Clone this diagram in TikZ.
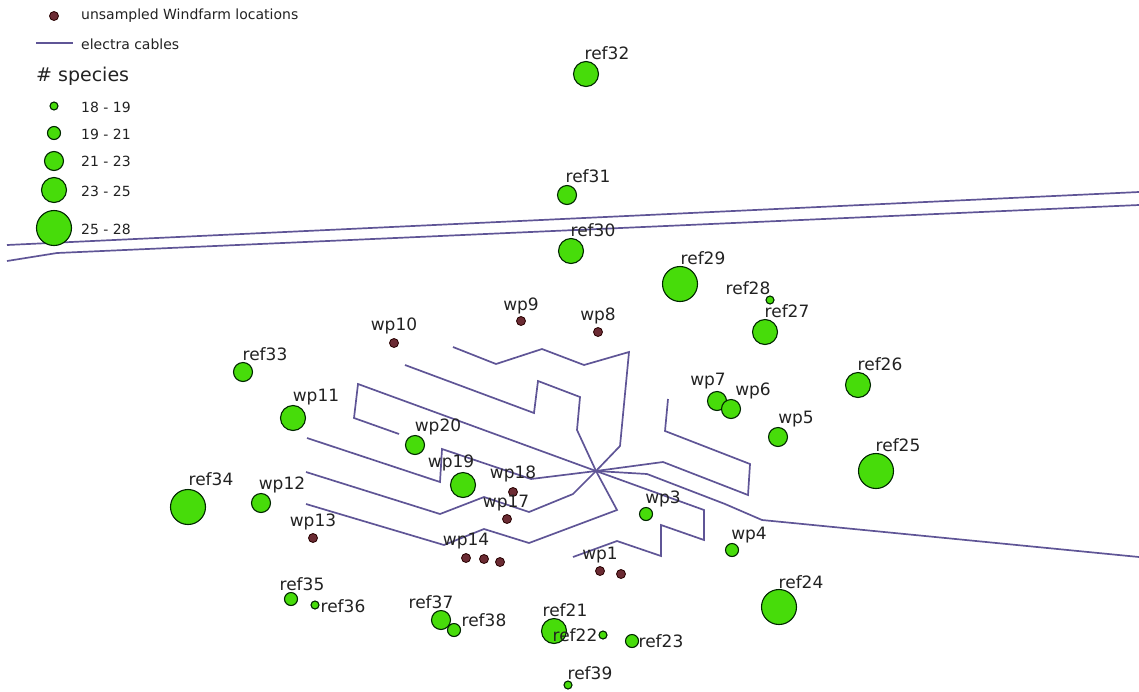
\documentclass[tikz,border=0pt]{standalone}
\usepackage{fontspec}
\setmainfont{DejaVu Sans}
\usetikzlibrary{calc,positioning}
\definecolor{cablecol}{HTML}{5F5596}
\definecolor{sitecol}{HTML}{47DC0A}
\definecolor{windcol}{HTML}{6B2B33}
\definecolor{textcol}{HTML}{222222}
\tikzset{
  SiteStyle/.style = {circle, draw=black!85!green, line width=1.1pt, fill=sitecol, inner sep=0pt, outer sep=0pt},
  SizeA/.style = {SiteStyle, minimum size=8pt},
  SizeB/.style = {SiteStyle, minimum size=13pt},
  SizeC/.style = {SiteStyle, minimum size=19pt},
  SizeD/.style = {SiteStyle, minimum size=25pt},
  SizeE/.style = {SiteStyle, minimum size=35pt},
  WindStyle/.style = {circle, draw=black!85!red, line width=0.8pt, fill=windcol, inner sep=0pt, minimum size=9pt},
  CableStyle/.style = {draw=cablecol, line width=1.7pt, line join=miter},
  LabelStyle/.style = {text=textcol, font=\fontsize{17}{18}\selectfont, inner sep=0pt},
  KeyStyle/.style = {text=textcol, font=\fontsize{14}{15}\selectfont, inner sep=0pt, anchor=west}
}
\begin{document}
\begin{tikzpicture}[x=1pt,y=-1pt]
    \useasboundingbox (0,0) rectangle (1139,691);
    % cables
    \coordinate (hub) at (596,471);
    \draw[CableStyle] (7,245) -- (1139,192);
    \draw[CableStyle] (7,261) -- (57,253) -- (1139,205);
    \draw[CableStyle] (hub) -- (620,446) -- (629,352) -- (584,365) -- (542,349) -- (496,364) -- (453,347);
    \draw[CableStyle] (hub) -- (577,430) -- (580,397) -- (538,381) -- (534,413) -- (405,365);
    \draw[CableStyle] (hub) -- (358,384) -- (354,418) -- (399,434);
    \draw[CableStyle] (hub) -- (531,479) -- (442,449) -- (440,482) -- (307,438);
    \draw[CableStyle] (hub) -- (573,494) -- (529,512) -- (484,497) -- (440,514) -- (306,472);
    \draw[CableStyle] (hub) -- (617,510) -- (529,543) -- (484,529) -- (444,545) -- (306,504);
    \draw[CableStyle] (hub) -- (704,510) -- (704,540) -- (661,525) -- (661,556) -- (617,541) -- (573,557);
    \draw[CableStyle] (hub) -- (647,474) -- (725,504) -- (762,520) -- (1139,557);
    \draw[CableStyle] (hub) -- (663,462) -- (748,495) -- (750,464) -- (665,431) -- (668,399);
    % sampled sites
    \node[SizeD] (ref32) at (586,74) {};
    \node[SizeC] (ref31) at (567,195) {};
    \node[SizeD] (ref30) at (571,251) {};
    \node[SizeE] (ref29) at (680,284) {};
    \node[SizeA] (ref28) at (770,300) {};
    \node[SizeD] (ref27) at (765,332) {};
    \node[SizeD] (ref26) at (858,385) {};
    \node[SizeE] (ref25) at (876,471) {};
    \node[SizeE] (ref24) at (779,607) {};
    \node[SizeC] (wp7) at (717,401) {};
    \node[SizeC] (wp6) at (731,409) {};
    \node[SizeC] (wp5) at (778,437) {};
    \node[SizeB] (wp3) at (646,514) {};
    \node[SizeB] (wp4) at (732,550) {};
    \node[SizeC] (ref33) at (243,372) {};
    \node[SizeD] (wp11) at (293,418) {};
    \node[SizeC] (wp20) at (415,445) {};
    \node[SizeD] (wp19) at (463,485) {};
    \node[SizeC] (wp12) at (261,503) {};
    \node[SizeE] (ref34) at (188,507) {};
    \node[SizeB] (ref35) at (291,599) {};
    \node[SizeA] (ref36) at (315,605) {};
    \node[SizeC] (ref37) at (441,620) {};
    \node[SizeB] (ref38) at (454,630) {};
    \node[SizeD] (ref21) at (554,631) {};
    \node[SizeA] (ref22) at (603,635) {};
    \node[SizeB] (ref23) at (632,641) {};
    \node[SizeA] (ref39) at (568,685) {};
    % unsampled sites
    \node[WindStyle] (wp9) at (521,321) {};
    \node[WindStyle] (wp8) at (598,332) {};
    \node[WindStyle] (wp10) at (394,343) {};
    \node[WindStyle] (wp18) at (513,492) {};
    \node[WindStyle] (wp17) at (507,519) {};
    \node[WindStyle] (wp13) at (313,538) {};
    \node[WindStyle] (wp14) at (466,558) {};
    \node[WindStyle] (wp15) at (484,559) {};
    \node[WindStyle] (wp16) at (500,562) {};
    \node[WindStyle] (wp1) at (600,571) {};
    \node[WindStyle] (wp2) at (621,574) {};
    % site labels
    \node[LabelStyle] (l32) at (607,53) {ref32};
    \node[LabelStyle] (l31) at (588,176) {ref31};
    \node[LabelStyle] (l30) at (593,230) {ref30};
    \node[LabelStyle] (l29) at (703,258) {ref29};
    \node[LabelStyle] (l28) at (748,288) {ref28};
    \node[LabelStyle] (l27) at (787,311) {ref27};
    \node[LabelStyle] (l26) at (880,364) {ref26};
    \node[LabelStyle] (l25) at (898,445) {ref25};
    \node[LabelStyle] (l24) at (801,582) {ref24};
    \node[LabelStyle] (lw7) at (708,381) {wp7};
    \node[LabelStyle] (lw6) at (753,391) {wp6};
    \node[LabelStyle] (lw5) at (796,419) {wp5};
    \node[LabelStyle] (lw3) at (663,499) {wp3};
    \node[LabelStyle] (lw4) at (749,535) {wp4};
    \node[LabelStyle] (l33) at (265,354) {ref33};
    \node[LabelStyle] (lw11) at (316,397) {wp11};
    \node[LabelStyle] (lw20) at (438,427) {wp20};
    \node[LabelStyle] (lw19) at (451,463) {wp19};
    \node[LabelStyle] (lw18) at (513,474) {wp18};
    \node[LabelStyle] (lw17) at (506,503) {wp17};
    \node[LabelStyle] (lw12) at (282,485) {wp12};
    \node[LabelStyle] (l34) at (211,479) {ref34};
    \node[LabelStyle] (lw13) at (313,522) {wp13};
    \node[LabelStyle] (lw14) at (466,541) {wp14};
    \node[LabelStyle] (lw1) at (600,555) {wp1};
    \node[LabelStyle] (lw10) at (394,326) {wp10};
    \node[LabelStyle] (lw9) at (521,306) {wp9};
    \node[LabelStyle] (lw8) at (598,316) {wp8};
    \node[LabelStyle] (l35) at (302,584) {ref35};
    \node[LabelStyle] (l36) at (343,606) {ref36};
    \node[LabelStyle] (l37) at (431,602) {ref37};
    \node[LabelStyle] (l38) at (484,620) {ref38};
    \node[LabelStyle] (l21) at (565,610) {ref21};
    \node[LabelStyle] (l22) at (575,635) {ref22};
    \node[LabelStyle] (l23) at (661,641) {ref23};
    \node[LabelStyle] (l39) at (590,673) {ref39};
    % legend
    \node[WindStyle] (keywind) at (54,16) {};
    \node[KeyStyle] (tkwind) at (81,16) {unsampled Windfarm locations};
    \coordinate (cableA) at (36,43);
    \coordinate (cableB) at (73,43);
    \draw[CableStyle] (cableA) -- (cableB);
    \node[KeyStyle] (tkcable) at (81,44) {electra cables};
    \node[KeyStyle,font=\fontsize{19}{20}\selectfont] (tkspecies) at (36,76) {\# species};
    \node[SizeA] (keyA) at (54,106) {};
    \node[SizeB] (keyB) at (54,133) {};
    \node[SizeC] (keyC) at (54,161) {};
    \node[SizeD] (keyD) at (54,190) {};
    \node[SizeE] (keyE) at (54,228) {};
    \node[KeyStyle] (tkA) at (81,107) {18 - 19};
    \node[KeyStyle] (tkB) at (81,134) {19 - 21};
    \node[KeyStyle] (tkC) at (81,161) {21 - 23};
    \node[KeyStyle] (tkD) at (81,191) {23 - 25};
    \node[KeyStyle] (tkE) at (81,229) {25 - 28};
\end{tikzpicture}
\end{document}
